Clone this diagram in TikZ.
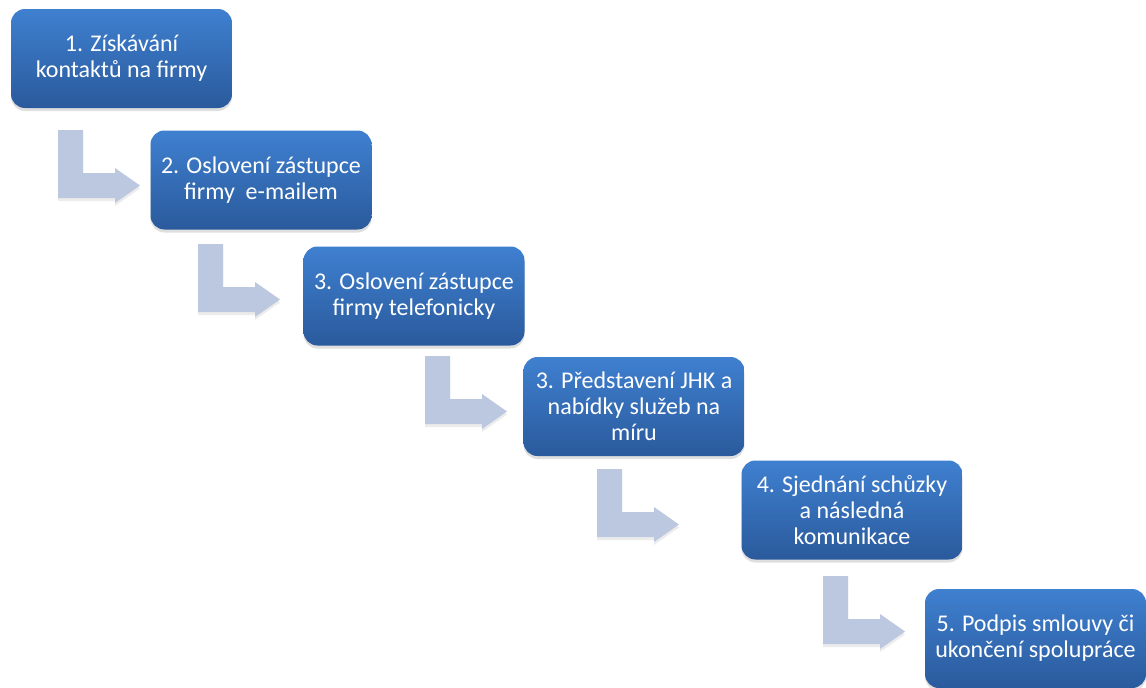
\documentclass[tikz,border=0pt]{standalone}
\usepackage{fontspec}
\setmainfont{Carlito}
\usetikzlibrary{shadows}
\definecolor{boxtop}{HTML}{3F80D0}
\definecolor{boxbot}{HTML}{2A5A9C}
\definecolor{arrowfill}{HTML}{BCC8DF}
\tikzset{
  stepbox/.style={rectangle, rounded corners=14pt, minimum width=221pt, minimum height=99pt,
    top color=boxtop, bottom color=boxbot, draw=none, text=white, align=center,
    font=\fontsize{24}{26}\selectfont, inner sep=0pt,
    drop shadow={opacity=0.25, shadow xshift=0pt, shadow yshift=-3pt}},
  bentarrow/.style={fill=arrowfill, draw=none,
    drop shadow={opacity=0.15, shadow xshift=0pt, shadow yshift=-3pt}},
}
\newcommand{\bentarrow}[1]{%
  \path[bentarrow] (#1) -- ++(25,0) -- ++(0,43) -- ++(32,0) -- ++(0,-5) -- ++(25,17.5)
    -- ++(-25,17.5) -- ++(0,-5) -- ++(-57,0) -- cycle;}
\begin{document}
\begin{tikzpicture}[x=1pt,y=-1pt]
\useasboundingbox (0,0) rectangle (1146,688);
\fill[white] (0,0) rectangle (1146,688);
% arrow anchors (top-left of stem)
\coordinate (a1) at (58,130);
\coordinate (a2) at (198,244);
\coordinate (a3) at (425,356);
\coordinate (a4) at (597,469);
\coordinate (a5) at (823,576);
\bentarrow{a1}
\bentarrow{a2}
\bentarrow{a3}
\bentarrow{a4}
\bentarrow{a5}
\node[stepbox] (s1) at (121.5,58.5) {1. Získávání\\kontaktů na firmy};
\node[stepbox] (s2) at (261,180) {2. Oslovení zástupce\\firmy\ \ e-mailem};
\node[stepbox] (s3) at (414,296) {3. Oslovení zástupce\\firmy telefonicky};
\node[stepbox] (s4) at (634,406.5) {3. Představení JHK a\\nabídky služeb na\\míru};
\node[stepbox] (s5) at (852,510) {4. Sjednání schůzky\\a následná\\komunikace};
\node[stepbox] (s6) at (1035.5,638.5) {5. Podpis smlouvy či\\ukončení spolupráce};
\end{tikzpicture}
\end{document}
